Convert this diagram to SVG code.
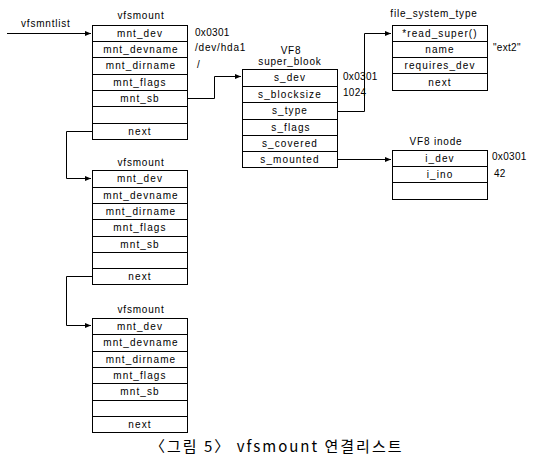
<svg xmlns="http://www.w3.org/2000/svg" width="539" height="475" viewBox="0 0 539 475">
<style>
.box{fill:#fff;stroke:#000;stroke-width:1}
.sep{stroke:#000;stroke-width:1}
text{font-family:"Liberation Sans",Arial,sans-serif;font-size:10px;fill:#000;letter-spacing:0.8px}
.c{text-anchor:middle;letter-spacing:1.1px}
.t{text-anchor:middle;letter-spacing:0.8px}
.v{letter-spacing:0.3px}
.conn{fill:none;stroke:#000;stroke-width:1}
.cap{font-family:"Noto Sans CJK KR","DejaVu Sans",sans-serif;font-size:15px;letter-spacing:0.5px}
</style>
<defs>
<marker id="arr" markerUnits="userSpaceOnUse" markerWidth="7" markerHeight="6" refX="6" refY="3" orient="auto">
<path d="M0,0.5 L6,3 L0,5.5 z" fill="#000"/>
</marker>
</defs>
<rect width="539" height="475" fill="#fff"/>

<g id="connectors">
<text x="21" y="27">vfsmntlist</text>
<path class="conn" d="M7,33.5 H91" marker-end="url(#arr)"/>
<path class="conn" d="M187,98.5 H214.5 V76.5 H241" marker-end="url(#arr)"/>
<path class="conn" d="M92,131.5 H66.5 V178.5 H91" marker-end="url(#arr)"/>
<path class="conn" d="M92,276.5 H66.5 V325.5 H91" marker-end="url(#arr)"/>
<path class="conn" d="M337,111.5 H364.5 V33.5 H391" marker-end="url(#arr)"/>
<path class="conn" d="M337,159.5 H391" marker-end="url(#arr)"/>
</g>

<g id="vfsmount1">
<text class="t" x="141" y="19">vfsmount</text>
<rect class="box" x="92.5" y="25.5" width="95" height="114"/>
<path class="sep" d="M92.5,41.5H187.5M92.5,57.5H187.5M92.5,74.5H187.5M92.5,90.5H187.5M92.5,106.5H187.5M92.5,123.5H187.5"/>
<text class="c" x="140" y="37">mnt_dev</text>
<text class="c" x="141" y="53">mnt_devname</text>
<text class="c" x="141" y="69">mnt_dirname</text>
<text class="c" x="140" y="86">mnt_flags</text>
<text class="c" x="140" y="102">mnt_sb</text>
<text class="c" x="140" y="135">next</text>
<text class="v" x="195" y="36">0x0301</text>
<text x="195" y="51">/dev/hda1</text>
<text x="197" y="68">/</text>
</g>

<g id="vfsmount2">
<text class="t" x="141" y="166">vfsmount</text>
<rect class="box" x="92.5" y="170.5" width="95" height="114"/>
<path class="sep" d="M92.5,187.5H187.5M92.5,203.5H187.5M92.5,219.5H187.5M92.5,236.5H187.5M92.5,252.5H187.5M92.5,268.5H187.5"/>
<text class="c" x="140" y="182">mnt_dev</text>
<text class="c" x="141" y="199">mnt_devname</text>
<text class="c" x="141" y="215">mnt_dirname</text>
<text class="c" x="140" y="231">mnt_flags</text>
<text class="c" x="140" y="248">mnt_sb</text>
<text class="c" x="140" y="280">next</text>
</g>

<g id="vfsmount3">
<text class="t" x="141" y="313">vfsmount</text>
<rect class="box" x="92.5" y="318.5" width="95" height="114"/>
<path class="sep" d="M92.5,334.5H187.5M92.5,351.5H187.5M92.5,367.5H187.5M92.5,383.5H187.5M92.5,400.5H187.5M92.5,416.5H187.5"/>
<text class="c" x="140" y="330">mnt_dev</text>
<text class="c" x="141" y="346">mnt_devname</text>
<text class="c" x="141" y="363">mnt_dirname</text>
<text class="c" x="140" y="379">mnt_flags</text>
<text class="c" x="140" y="395">mnt_sb</text>
<text class="c" x="140" y="428">next</text>
</g>

<g id="super_block">
<text class="t" x="291" y="54">VF8</text>
<text class="t" x="290" y="65">super_blook</text>
<rect class="box" x="242.5" y="69.5" width="95" height="98"/>
<path class="sep" d="M242.5,86.5H337.5M242.5,102.5H337.5M242.5,119.5H337.5M242.5,135.5H337.5M242.5,151.5H337.5"/>
<text class="c" x="290" y="81">s_dev</text>
<text class="c" x="290" y="98">s_blocksize</text>
<text class="c" x="290" y="114">s_type</text>
<text class="c" x="291" y="131">s_flags</text>
<text class="c" x="290" y="147">s_covered</text>
<text class="c" x="290" y="163">s_mounted</text>
<text class="v" x="343" y="80">0x0301</text>
<text class="v" x="343" y="96">1024</text>
</g>

<g id="file_system_type">
<text class="t" x="434" y="17">file_system_type</text>
<rect class="box" x="392.5" y="25.5" width="95" height="65"/>
<path class="sep" d="M392.5,41.5H487.5M392.5,57.5H487.5M392.5,73.5H487.5"/>
<text class="c" x="440" y="37">*read_super()</text>
<text class="c" x="440" y="53">name</text>
<text class="c" x="440" y="69">requires_dev</text>
<text class="c" x="440" y="86">next</text>
<text class="v" x="493" y="51">"ext2"</text>
</g>

<g id="inode">
<text class="t" x="436" y="145">VF8 inode</text>
<rect class="box" x="392.5" y="150.5" width="95" height="49"/>
<path class="sep" d="M392.5,166.5H487.5M392.5,182.5H487.5"/>
<text class="c" x="440" y="162">i_dev</text>
<text class="c" x="440" y="178">i_ino</text>
<text class="v" x="492" y="160">0x0301</text>
<text class="v" x="494" y="177">42</text>
</g>

<text class="cap" x="150" y="452" textLength="252">〈그림 5〉 vfsmount 연결리스트</text>
</svg>
